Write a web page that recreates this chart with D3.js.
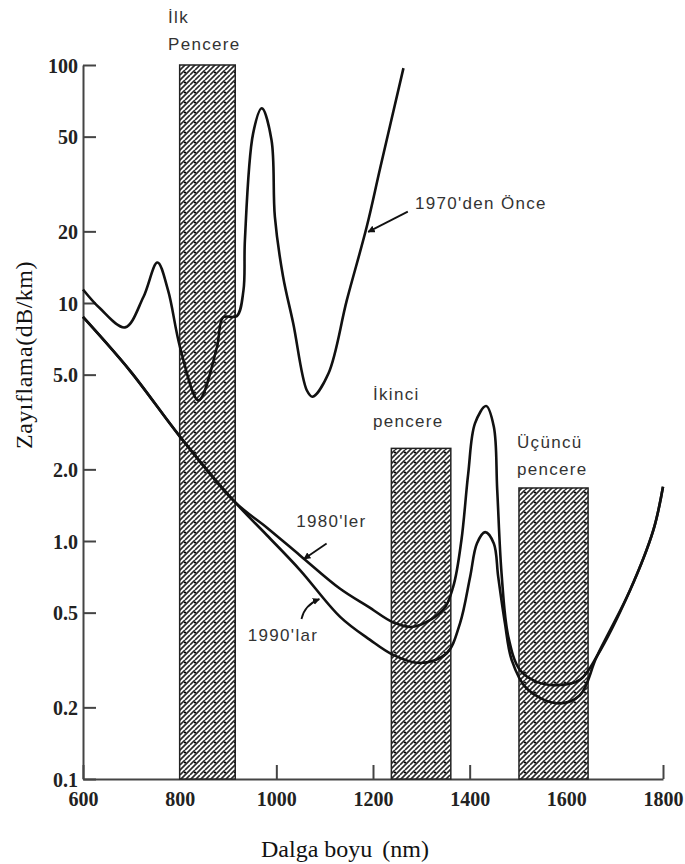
<!DOCTYPE html>
<html>
<head>
<meta charset="utf-8">
<script src="https://cdn.jsdelivr.net/npm/d3@7"></script>
<style>
body { margin: 0; background: #fff; }
svg { display: block; }
.tick text { font-family: "Liberation Serif", serif; font-weight: bold; font-size: 20px; fill: #222; }
.lbl { font-family: "Liberation Sans", Arial, sans-serif; font-size: 17px; fill: #333; letter-spacing: 1.3px; }
</style>
</head>
<body>
<svg width="685" height="864"></svg>
<script>
// attenuation (dB/km) against wavelength (nm)
var before1970 = [[600, 11.4], [635, 9.5], [687, 7.9], [725, 10.6], [754, 14.8], [776, 11.3],
    [801, 6.5], [839, 3.9], [877, 6.5], [890, 8.7], [918, 8.8], [932, 11.3], [935, 18.4],
    [952, 51.6], [970, 65.8], [990, 48.4], [997, 23], [1014, 12.9], [1035, 8.2], [1063, 4.3],
    [1075, 4.04], [1108, 5.07], [1146, 10.3], [1187, 20.9], [1215, 37], [1263, 97]];

var eighties = [[600, 8.74], [697, 5.2], [801, 2.74], [914, 1.46], [980, 1.14], [1049, 0.87],
    [1132, 0.63], [1190, 0.53], [1242, 0.455], [1283, 0.436], [1345, 0.513], [1366, 0.643],
    [1383, 1.01], [1397, 1.92], [1411, 3.12], [1434, 3.69], [1450, 3.02], [1457, 1.64],
    [1466, 0.73], [1480, 0.396], [1504, 0.287], [1539, 0.256], [1580, 0.248], [1628, 0.261],
    [1663, 0.327], [1732, 0.622], [1780, 1.11], [1800, 1.69]];

var nineties = [[600, 8.74], [697, 5.2], [801, 2.74], [914, 1.46], [980, 1.06], [1049, 0.755],
    [1132, 0.48], [1194, 0.384], [1242, 0.332], [1297, 0.307], [1352, 0.337], [1380, 0.451],
    [1401, 0.708], [1415, 0.977], [1432, 1.09], [1450, 0.977], [1459, 0.708], [1473, 0.451],
    [1487, 0.316], [1518, 0.24], [1580, 0.208], [1628, 0.225], [1663, 0.327], [1732, 0.622],
    [1780, 1.11], [1800, 1.69]];

// transmission windows: nm from, nm to, top in dB/km
var windowFrom = [800, 1238, 1502];
var windowTo = [915, 1361, 1645];
var windowTop = [100, 2.45, 1.67];
var windowNames = [["İlk", "Pencere"], ["İkinci", "pencere"], ["Üçüncü", "pencere"]];

var xTicks = [600, 800, 1000, 1200, 1400, 1600, 1800];
var yTicks = [0.1, 0.2, 0.5, 1, 2, 5, 10, 20, 50, 100];
var yTickLabels = ["0.1", "0.2", "0.5", "1.0", "2.0", "5.0", "10", "20", "50", "100"];

var curveNames = ["1970'den Önce", "1980'ler", "1990'lar"];

var svg = d3.select("svg");
var x = d3.scaleLinear().domain([600, 1800]).range([83, 663]);
var y = d3.scaleLog().domain([0.1, 100]).range([779, 65]);

var defs = svg.append("defs");
var pat = defs.append("pattern").attr("id", "hatch")
    .attr("patternUnits", "userSpaceOnUse").attr("width", 10).attr("height", 10);
pat.append("rect").attr("width", 10).attr("height", 10).attr("fill", "#fff");
pat.append("path")
    .attr("d", "M-1,1 L1,-1 M0,5 L5,0 M0,10 L10,0 M5,10 L10,5 M9,11 L11,9")
    .attr("stroke", "#2a2a2a").attr("stroke-width", 1.7);
pat.append("circle").attr("cx", 5).attr("cy", 2.5).attr("r", 1.1).attr("fill", "#000");

defs.append("marker").attr("id", "head")
    .attr("viewBox", "0 0 10 10").attr("refX", 9).attr("refY", 5)
    .attr("markerWidth", 4).attr("markerHeight", 4).attr("orient", "auto")
    .append("path").attr("d", "M0,0 L10,5 L0,10 z").attr("fill", "#111");

// axes
var yAxis = d3.axisLeft(y).tickValues(yTicks)
    .tickFormat(function (d, i) { return yTickLabels[i]; })
    .tickSizeInner(-13).tickSizeOuter(0).tickPadding(5);
var xAxis = d3.axisBottom(x).tickValues(xTicks).tickFormat(d3.format("d"))
    .tickSizeInner(-14).tickSizeOuter(0).tickPadding(13);

var gy = svg.append("g").attr("transform", "translate(83,0)").call(yAxis);
var gx = svg.append("g").attr("transform", "translate(0,779)").call(xAxis);
svg.selectAll(".domain").attr("stroke", "#444").attr("stroke-width", 2);
svg.selectAll(".tick line").attr("stroke", "#444").attr("stroke-width", 2);
gy.selectAll(".tick text").attr("dy", "0.35em");

// windows
svg.selectAll("rect.win")
    .data(windowFrom)
    .enter().append("rect")
    .attr("class", "win")
    .attr("x", function (d) { return x(d); })
    .attr("y", function (d, i) { return y(windowTop[i]); })
    .attr("width", function (d, i) { return x(windowTo[i]) - x(d); })
    .attr("height", function (d, i) { return y(0.1) - y(windowTop[i]); })
    .attr("fill", "url(#hatch)")
    .attr("stroke", "#222").attr("stroke-width", 1.5);

// window captions (nm of left edge, dB/km of the two baselines)
var windowLabelAt = [[776, 150, 115.6], [1200, 3.91, 3.01], [1498, 2.46, 1.89]];
windowNames.forEach(function (lines, i) {
    var p = windowLabelAt[i];
    lines.forEach(function (t, j) {
        svg.append("text").attr("class", "lbl")
            .attr("x", x(p[0])).attr("y", y(p[1 + j]))
            .text(t);
    });
});

// curves
var line = d3.line()
    .x(function (d) { return x(d[0]); })
    .y(function (d) { return y(d[1]); })
    .curve(d3.curveCatmullRom.alpha(0.5));

svg.selectAll("path.loss")
    .data([before1970, eighties, nineties])
    .enter().append("path")
    .attr("class", "loss")
    .attr("d", line)
    .attr("fill", "none")
    .attr("stroke", "#111")
    .attr("stroke-width", 2.6)
    .attr("stroke-linejoin", "round");

// curve captions with pointers: text at, pointer tail, pointer head (nm, dB/km)
var noteText = [[1287, 24.8], [1041, 1.146], [941, 0.38]];
var noteTail = [[1272, 24.2], [1104, 0.977], [1052, 0.47]];
var noteHead = [[1190, 19.9], [1057, 0.84], [1089, 0.57]];

curveNames.forEach(function (name, i) {
    svg.append("text").attr("class", "lbl")
        .attr("x", x(noteText[i][0])).attr("y", y(noteText[i][1]))
        .text(name);
    var t = noteTail[i], h = noteHead[i];
    var tx = x(t[0]), ty = y(t[1]), hx = x(h[0]), hy = y(h[1]);
    var mx = (tx + hx) / 2 + (i == 2 ? -6 : 0), my = (ty + hy) / 2 + (i == 2 ? -4 : 0);
    svg.append("path")
        .attr("d", "M" + tx + "," + ty + " Q" + mx + "," + my + " " + hx + "," + hy)
        .attr("fill", "none").attr("stroke", "#111").attr("stroke-width", 1.8)
        .attr("marker-end", "url(#head)");
});

// axis titles
svg.append("text")
    .attr("transform", "translate(32,355) rotate(-90)")
    .attr("text-anchor", "middle")
    .style("font-family", "'Liberation Serif', serif")
    .style("font-size", "24px")
    .style("letter-spacing", "0.5px")
    .attr("fill", "#111")
    .text("Zayıflama(dB/km)");

var xt = svg.append("text")
    .attr("x", 345).attr("y", 857)
    .attr("text-anchor", "middle")
    .style("font-family", "'Liberation Serif', serif")
    .style("font-size", "24px")
    .attr("fill", "#111");
xt.append("tspan").text("Dalga boyu");
xt.append("tspan").attr("dx", 10).text("(nm)");
</script>
</body>
</html>
